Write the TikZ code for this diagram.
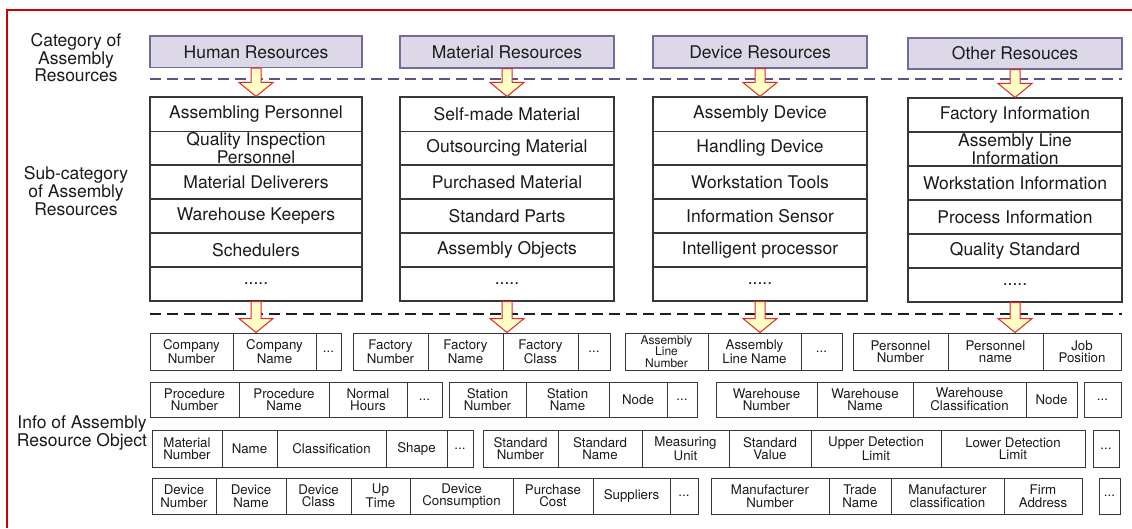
\documentclass[tikz,border=0pt]{standalone}
\usepackage{fontspec}
\setmainfont{TeX Gyre Heros}
\usetikzlibrary{calc}

\definecolor{framered}{HTML}{CC0000}
\definecolor{catfill}{HTML}{DDD8E8}
\definecolor{catline}{HTML}{77699A}
\definecolor{dashpurple}{HTML}{5E5184}
\definecolor{dashdark}{HTML}{1E1E1E}
\definecolor{arrowfill}{HTML}{FFFFC6}
\definecolor{arrowline}{HTML}{E0262A}
\definecolor{cellline}{HTML}{383838}
\definecolor{ink}{HTML}{1A1A1A}

\tikzset{
  cat/.style={draw=catline, fill=catfill, line width=1.1pt, inner sep=0pt,
    font=\fontsize{17.5}{16}\selectfont, text=ink},
  item/.style={draw=cellline, fill=white, line width=1.1pt, inner sep=0pt,
    align=center, font=\fontsize{17.5}{15.5}\selectfont, text=ink},
  field/.style={draw=cellline, fill=white, line width=1pt, inner sep=0pt,
    align=center, font=\fontsize{13.3}{12.5}\selectfont, text=ink},
  tightfield/.style={field, font=\fontsize{12}{11.5}\selectfont},
  sidelabel/.style={align=center, inner sep=0pt, text=ink},
  blockarrow/.style={draw=arrowline, fill=arrowfill, line width=1pt, line join=miter},
  separator/.style={line width=1.8pt, dash pattern=on 11pt off 6pt},
}

% box with given left/right/top/bottom edges (y grows downwards)
\newcommand\boxat[7]{%
  \node[#1, minimum width={(#4-#3)*1pt}, minimum height={(#6-#5)*1pt}]
    (#2) at ({(#3+#4)/2},{(#5+#6)/2}) {#7};}

% a horizontal run of attribute cells: prefix, top, bottom, {x1/x2/text,...}
\newcommand\fieldrow[4]{%
  \foreach \xa/\xb/\txt [count=\cidx] in {#4} {\boxat{field}{#1\cidx}{\xa}{\xb}{#2}{#3}{\txt}}}

% a vertical column of sub-category cells: prefix, left, right, {y1/y2/text,...}
\newcommand\itemcol[4]{%
  \foreach \ya/\yb/\txt [count=\cidx] in {#4} {\boxat{item}{#1\cidx}{#2}{#3}{\ya}{\yb}{\txt}}}

% hollow block arrow from the bottom of one node down to the top of another
\newcommand\flowarrow[2]{%
  \draw[blockarrow] let \p1=(#1.south), \p2=(#2.north) in
    (\x1-5pt,\y1) -- (\x1+5pt,\y1) -- (\x1+5pt,\y2+14pt) -- (\x1+17pt,\y2+14pt)
    -- (\x1,\y2) -- (\x1-17pt,\y2+14pt) -- (\x1-5pt,\y2+14pt) -- cycle;}

\begin{document}
\begin{tikzpicture}[x=1pt, y=-1pt]
\useasboundingbox (0,0) rectangle (1132,528);
\fill[white] (0,0) rectangle (1132,528);

% outer frame
\draw[framered, line width=2pt] (7,528) -- (7,10) -- (1132,10);

% level captions
\node[sidelabel, font=\fontsize{17.5}{15}\selectfont] (lcat) at (76,58) {Category of\\Assembly\\Resources};
\node[sidelabel, font=\fontsize{17.5}{16.5}\selectfont] (lsub) at (76,191) {Sub-category\\of Assembly\\Resources};
\node[sidelabel, font=\fontsize{17.5}{16}\selectfont] (linfo) at (82,433) {Info of Assembly\\Resource Object};

% separators between the levels
\draw[separator, dashpurple] (150,79) -- (1122,79);
\draw[separator, dashdark] (150,314) -- (1122,314);

% resource categories
\boxat{cat}{hr}{150}{362}{36}{67.5}{Human Resources}
\boxat{cat}{mr}{400}{614}{36}{68}{Material Resources}
\boxat{cat}{dr}{653}{867}{36}{68}{Device Resources}
\boxat{cat}{or}{908}{1122}{38}{69}{Other Resouces}

% sub-categories
\itemcol{hl}{150}{362}{97/131.5/{Assembling Personnel}, 131.5/165/{Quality Inspection\\Personnel},
  165/199/{Material Deliverers}, 199/233/{Warehouse Keepers}, 233/267/{Schedulers}, 267/301/{.....}}
\itemcol{ml}{400}{614}{97/131.5/{Self-made Material}, 131.5/165/{Outsourcing Material},
  165/199/{Purchased Material}, 199/233/{Standard Parts}, 233/267/{Assembly Objects}, 267/301/{.....}}
\itemcol{dl}{653}{867}{97/131.5/{Assembly Device}, 131.5/165/{Handling Device},
  165/199/{Workstation Tools}, 199/233/{Information Sensor}, 233/267/{Intelligent processor}, 267/301/{.....}}
\itemcol{ol}{908}{1122}{98/132/{Factory Information}, 132/166/{Assembly Line\\Information},
  166/200/{Workstation Information}, 200/234/{Process Information}, 234/268/{Quality Standard}, 268/302/{.....}}

% attribute rows
\fieldrow{ra}{333}{370}{150/233/{Company\\Number}, 233/316/{Company\\Name}, 316/341/{...}}
\fieldrow{rb}{333}{370}{353/428/{Factory\\Number}, 428/503/{Factory\\Name}, 503/578/{Factory\\Class}, 578/610/{...}}
\boxat{tightfield}{rc1}{625}{708}{333}{370}{Assembly\\Line\\Number}
\fieldrow{rc}{333}{370}{708/801/{Assembly\\Line Name}, 801/842/{...}}
\fieldrow{rd}{333}{370}{853/948/{Personnel\\Number}, 948/1043/{Personnel\\name}, 1043/1121/{Job\\Position}}

\fieldrow{sa}{382}{417}{150/239/{Procedure\\Number}, 239/329/{Procedure\\Name}, 329/407/{Normal\\Hours}, 407/442/{...}}
\fieldrow{sb}{382}{417}{449/526/{Station\\Number}, 526/609/{Station\\Name}, 609/667/{Node}, 667/697/{...}}
\fieldrow{sc}{382}{417}{716/817/{Warehouse\\Number}, 817/913/{Warehouse\\Name}, 913/1026/{Warehouse\\Classification}, 1026/1077/{Node}}
\fieldrow{sd}{382}{417}{1084/1121/{...}}

\fieldrow{ta}{430}{467}{152/222/{Material\\Number}, 222/277/{Name}, 277/386/{Classification}, 386/447/{Shape}, 447/473/{...}}
\fieldrow{tb}{430}{467}{483/558/{Standard\\Number}, 558/642/{Standard\\Name}, 642/729/{Measuring\\Unit},
  729/811/{Standard\\Value}, 811/941/{Upper Detection\\Limit}, 941/1085/{Lower Detection\\Limit}}
\fieldrow{tc}{430}{467}{1093/1119/{...}}

\fieldrow{ua}{478}{514}{152/216/{Device\\Number}, 216/286/{Device\\Name}, 286/351/{Device\\Class}, 351/410/{Up\\Time},
  410/513/{Device\\Consumption}, 513/593/{Purchase\\Cost}, 593/670/{Suppliers}, 670/698/{...}}
\fieldrow{ub}{478}{514}{711/829/{Manufacturer\\Number}, 829/891/{Trade\\Name}, 891/1004/{Manufacturer\\classification}, 1004/1082/{Firm\\Address}}
\fieldrow{uc}{478}{514}{1099/1120/{...}}

% refinement arrows
\flowarrow{hr}{hl1}
\flowarrow{mr}{ml1}
\flowarrow{dr}{dl1}
\flowarrow{or}{ol1}
\flowarrow{hl6}{ra2}
\flowarrow{ml6}{rb3}
\flowarrow{dl6}{rc2}
\flowarrow{ol6}{rd2}
\end{tikzpicture}
\end{document}
